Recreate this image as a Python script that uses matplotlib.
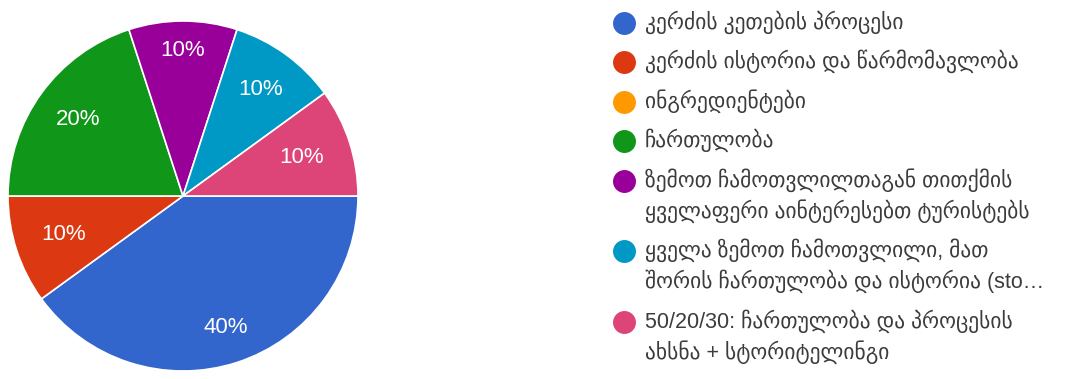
import matplotlib
matplotlib.use('Agg')
import matplotlib.pyplot as plt
import numpy as np

# answer categories (legend order) and their shares
labels = [
    'კერძის კეთების პროცესი',
    'კერძის ისტორია და წარმომავლობა',
    'ინგრედიენტები',
    'ჩართულობა',
    'ზემოთ ჩამოთვლილთაგან თითქმის\nყველაფერი აინტერესებთ ტურისტებს',
    'ყველა ზემოთ ჩამოთვლილი, მათ\nშორის ჩართულობა და ისტორია (sto…',
    '50/20/30: ჩართულობა და პროცესის\nახსნა + სტორიტელინგი',
]
shares = [40, 10, 0, 20, 10, 10, 10]
colors = ['#3366cc', '#dc3912', '#ff9900', '#109618', '#990099', '#0099c6', '#dd4477']
# radial position of each percentage label (fraction of radius)
label_dist = [0.79, 0.72, 0.75, 0.74, 0.83, 0.75, 0.71]

W, H = 1065, 379
fig = plt.figure(figsize=(W / 100, H / 100), dpi=100)

# pie: centre ~ (183, 196) px, radius ~175 px
cx, cy, r = 183, 196, 175
ax = fig.add_axes([(cx - r) / W, (H - cy - r) / H, 2 * r / W, 2 * r / H])
wedges, _, autotexts = ax.pie(
    shares, colors=colors, startangle=0, counterclock=False,
    radius=1.0, pctdistance=0.75,
    autopct=lambda p: '%d%%' % round(p) if p > 0 else '',
    wedgeprops=dict(edgecolor='white', linewidth=1.2),
    textprops=dict(color='white', fontsize=16, family=['Liberation Sans', 'DejaVu Sans']))
for w, t, d in zip(wedges, autotexts, label_dist):
    ang = np.deg2rad((w.theta1 + w.theta2) / 2)
    t.set_position((d * np.cos(ang), d * np.sin(ang)))
ax.set_xlim(-1, 1)
ax.set_ylim(-1, 1)
ax.set_aspect('equal')
ax.axis('off')

# legend drawn by hand so the dot sits on the first line of each entry
lax = fig.add_axes([0, 0, 1, 1])
lax.set_xlim(0, W)
lax.set_ylim(H, 0)
lax.axis('off')

dot_x, text_x = 624, 645
y = 22.5
line_h, gap = 31, 39.5
for lab, col in zip(labels, colors):
    lax.plot(dot_x, y, 'o', ms=15.5, color=col, mec=col)
    lines = lab.split('\n')
    for k, line in enumerate(lines):
        lax.text(text_x, y + k * line_h + 6, line, va='baseline', ha='left',
                 fontsize=15.5, color='#3c3c3c',
                 family=['Liberation Sans', 'DejaVu Sans'])
    y += gap + line_h * (len(lines) - 1)

fig.savefig('out.png', dpi=100)
